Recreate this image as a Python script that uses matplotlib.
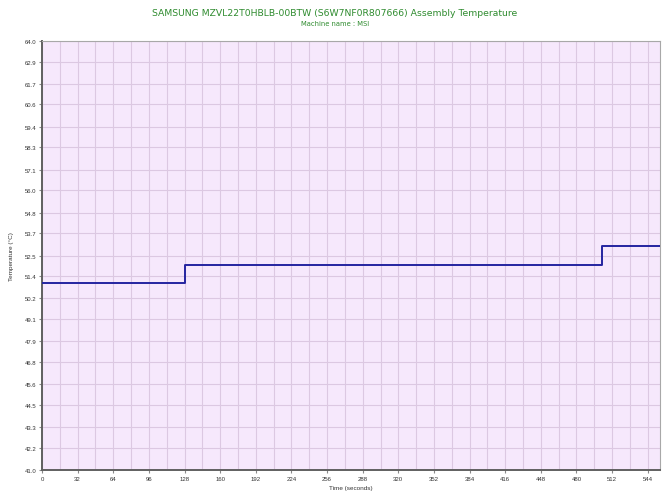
import matplotlib
matplotlib.use("Agg")
import matplotlib.pyplot as plt
import numpy as np
from matplotlib.ticker import MultipleLocator

times = [0, 128, 503, 555]
temps = [51.0, 52.0, 53.0, 53.0]

title = "SAMSUNG MZVL22T0HBLB-00BTW (S6W7NF0R807666) Assembly Temperature"
subtitle = "Machine name : MSI"
y_ticks = [41.0, 42.2, 43.3, 44.5, 45.6, 46.8, 47.9, 49.1, 50.2, 51.4, 52.5,
           53.7, 54.8, 56.0, 57.1, 58.3, 59.4, 60.6, 61.7, 62.9, 64.0]
x_ticks = list(range(0, 545, 32))

fig = plt.figure(figsize=(6.7, 5.02), dpi=100)
fig.patch.set_facecolor("white")
ax = fig.add_axes([42/670, 1 - 471/502, (660-42)/670, (471-42)/502])
ax.set_facecolor("#F6E8FC")

ax.plot(times, temps, drawstyle="steps-post", color="#2424A0", lw=1.4, zorder=3)

ax.set_xlim(0, 555)
ax.set_ylim(41.0, 64.0)
ax.set_yticks(y_ticks)
ax.set_yticklabels([f"{v:.1f}" for v in y_ticks])
ax.set_xticks(x_ticks)
ax.set_xticklabels([str(v) for v in x_ticks])
ax.xaxis.set_minor_locator(MultipleLocator(16))
ax.grid(True, which="major", color="#DCC8E2", lw=0.8)
ax.grid(True, which="minor", axis="x", color="#DCC8E2", lw=0.8)
ax.tick_params(axis="both", which="both", labelsize=4.3, length=2, color="#888888", labelcolor="#333333", pad=2)
ax.tick_params(which="minor", length=0)
for lab in ax.get_xticklabels() + ax.get_yticklabels():
    lab.set_family("Liberation Sans")

for s in ["top", "right"]:
    ax.spines[s].set_color("#A8A8A8")
    ax.spines[s].set_linewidth(0.8)
for s in ["left", "bottom"]:
    ax.spines[s].set_color("#606060")
    ax.spines[s].set_linewidth(1.4)

ax.set_xlabel("Time (seconds)", fontsize=4.6, color="#333333", labelpad=3, family="Liberation Sans")
ax.set_ylabel("Temperature (°C)", fontsize=4.6, color="#333333", labelpad=8, family="Liberation Sans")

fig.text(0.5, 1 - 13/502, title, ha="center", va="center", fontsize=6.7, color="#2E8B2E")
fig.text(0.5, 1 - 24/502, subtitle, ha="center", va="center", fontsize=4.9, color="#2E8B2E")

fig.savefig("out.png", dpi=100)
